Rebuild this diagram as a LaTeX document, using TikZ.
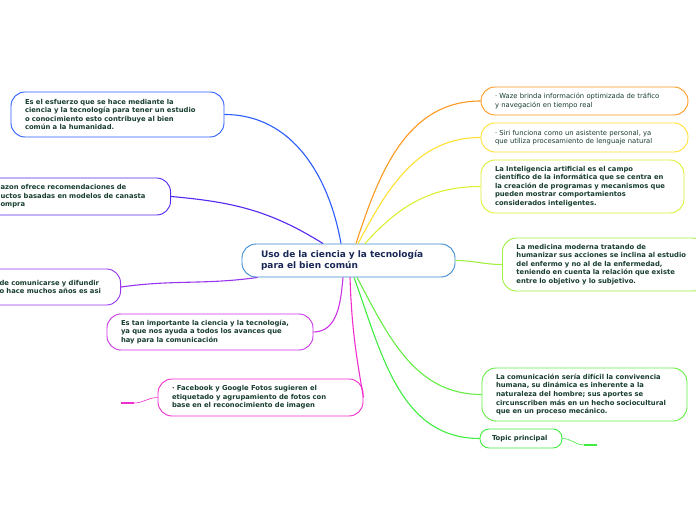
\documentclass[tikz,border=0pt]{standalone}
\usepackage{fontspec}
\setmainfont{DejaVu Sans}
\usetikzlibrary{arrows.meta}

\definecolor{txtgreen}{RGB}{24,62,46}
\definecolor{txtnavy}{RGB}{26,40,88}
\definecolor{c-ctr}{RGB}{58,138,208}
\definecolor{c-esfuerzo}{RGB}{42,92,255}
\definecolor{c-amazon}{RGB}{84,40,240}
\definecolor{c-comunic}{RGB}{150,52,240}
\definecolor{c-importante}{RGB}{204,52,232}
\definecolor{c-facebook}{RGB}{240,44,204}
\definecolor{c-waze}{RGB}{255,152,30}
\definecolor{c-siri}{RGB}{255,224,50}
\definecolor{c-ia}{RGB}{220,240,50}
\definecolor{c-medicina}{RGB}{160,240,64}
\definecolor{c-comunicacion}{RGB}{100,238,68}
\definecolor{c-topic}{RGB}{64,236,64}

\tikzset{
  idea/.style={draw, fill=white, rounded corners=14pt, line width=0.9pt,
    text=txtgreen, align=left, inner xsep=14pt,
    font=\fontsize{6.8}{8.6}\selectfont\bfseries},
  plain/.style={idea, font=\fontsize{6.8}{8.4}\selectfont},
  link/.style={line width=1.1pt}
}

\begin{document}
\begin{tikzpicture}[x=1pt,y=1pt,>=Stealth]
\useasboundingbox (0,0) rectangle (696,520);
% ---- central topic ----
\node[idea, draw=c-ctr, text=txtnavy, text width=175pt, inner xsep=19pt,
  minimum height=33pt, font=\fontsize{9}{11}\selectfont\bfseries] (ctr) at (348.5,259.5)
  {Uso de la ciencia y la tecnología\\para el bien común};
% ---- left branches ----
\node[idea, draw=c-esfuerzo, text width=185pt, minimum height=45pt] (esfuerzo) at (117.5,405.5)
  {Es el esfuerzo que se hace mediante la\\ciencia y la tecnología para tener un estudio\\o conocimiento esto contribuye al bien\\común a la humanidad.};
\node[idea, draw=c-amazon, text width=156pt, minimum height=37pt, anchor=east] (amazon) at (171,323.5)
  {azon ofrece recomendaciones de\\uctos basadas en modelos de canasta\\ompra};
\node[idea, draw=c-comunic, text width=107pt, minimum height=36pt, anchor=east] (comunic) at (121,233)
  {de comunicarse y difundir\\o hace muchos años es asi};
\node[idea, draw=c-importante, text width=178pt, minimum height=36pt] (importante) at (210,188)
  {Es tan importante la ciencia y la tecnología,\\ya que nos ayuda a todos los avances que\\hay para la comunicación};
\node[idea, draw=c-facebook, text width=177pt, minimum height=37pt] (facebook) at (260.5,122.5)
  {· Facebook y Google Fotos sugieren el\\etiquetado y agrupamiento de fotos con\\base en el reconocimiento de imagen};
% ---- right branches ----
\node[plain, draw=c-waze, text width=179pt, minimum height=28pt] (waze) at (584.5,419)
  {· Waze brinda información optimizada de tráfico\\y navegación en tiempo real};
\node[plain, draw=c-siri, text width=179pt, minimum height=29pt] (siri) at (584.5,382.5)
  {· Siri funciona como un asistente personal, ya\\que utiliza procesamiento de lenguaje natural};
\node[idea, draw=c-ia, text width=175pt, minimum height=53pt] (ia) at (582.5,333.5)
  {La Inteligencia artificial es el campo\\científico de la informática que se centra en\\la creación de programas y mecanismos que\\pueden mostrar comportamientos\\considerados inteligentes.};
\node[idea, draw=c-medicina, text width=176pt, minimum height=53pt, anchor=west] (medicina) at (502,255.5)
  {La medicina moderna tratando de\\humanizar sus acciones se inclina al estudio\\del enfermo y no al de la enfermedad,\\teniendo en cuenta la relación que existe\\entre lo objetivo y lo subjetivo.};
\node[idea, draw=c-comunicacion, text width=177pt, minimum height=53pt] (comunicacion) at (584.5,125.5)
  {La comunicación sería difícil la convivencia\\humana, su dinámica es inherente a la\\naturaleza del hombre; sus aportes se\\circunscriben más en un hecho sociocultural\\que en un proceso mecánico.};
\node[idea, draw=c-topic, text width=58pt, inner xsep=12pt, minimum height=19pt,
  rounded corners=9pt] (topic) at (521,81.5) {Topic principal};
% ---- connectors ----
\draw[link,c-esfuerzo] ([xshift=-7.5pt]ctr.north) to[out=100,in=0] (esfuerzo.east);
\draw[link,c-amazon] ([xshift=-25.5pt]ctr.north) to[out=148,in=-5] (amazon.east);
\draw[link,c-comunic] ([xshift=16pt]ctr.south west) to[out=188,in=8] (comunic.east);
\draw[link,c-importante] ([xshift=-5.5pt]ctr.south) to[out=-95,in=0] (importante.east);
\draw[link,c-facebook] ([xshift=1.5pt]ctr.south) to[out=-88,in=100] (facebook.east);
\foreach \n/\dx/\o in {waze/7.5/72, siri/9.5/62, ia/16.5/48}{
  \draw[link,c-\n] ([xshift=\dx pt]ctr.north) to[out=\o,in=180] (\n.west);
}
\draw[link,c-medicina] (ctr.east) to[out=0,in=180] (medicina.west);
\draw[link,c-comunicacion] ([xshift=8.5pt]ctr.south) to[out=-62,in=180] (comunicacion.west);
\draw[link,c-topic] ([xshift=5.5pt]ctr.south) to[out=-70,in=180] (topic.west);
% ---- collapsed stubs ----
\coordinate (fb-stub) at (134,117);
\coordinate (fb-tip) at (121,117);
\draw[c-facebook,line width=0.6pt] (facebook.west) to[out=180,in=0] (fb-stub);
\draw[c-facebook,line width=1.8pt] (fb-stub) -- (fb-tip);
\coordinate (tp-stub) at (584,75);
\coordinate (tp-tip) at (597,75);
\draw[c-topic,line width=0.6pt] (topic.east) to[out=0,in=180] (tp-stub);
\draw[c-topic,line width=1.8pt] (tp-stub) -- (tp-tip);
\end{tikzpicture}
\end{document}
